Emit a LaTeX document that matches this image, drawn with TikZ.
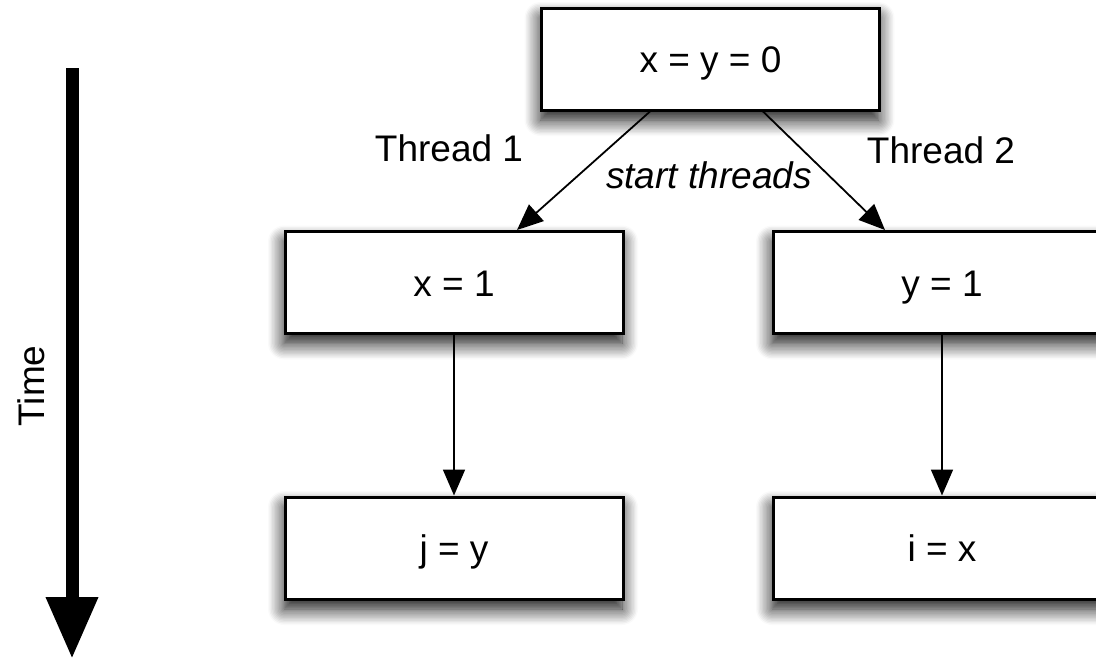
\documentclass[tikz,border=0pt]{standalone}
\usepackage{fontspec}
\setmainfont{Liberation Sans}
\usetikzlibrary{arrows.meta,shadows.blur}

\tikzset{
  statebox/.style={draw=black, line width=3pt, fill=white,
    minimum width=338pt, minimum height=102pt, inner sep=0pt,
    text height=27pt, text depth=0pt,
    blur shadow={shadow xshift=-1pt, shadow yshift=-10pt,
      shadow blur radius=16pt, shadow blur steps=12, shadow opacity=95}},
  flow/.style={line width=1.8pt, -{Triangle[length=26pt,width=22pt]}},
  timeaxis/.style={line width=13pt, -{Triangle[length=62pt,width=49pt]}},
  lbl/.style={inner sep=0pt}
}

\begin{document}
\begin{tikzpicture}[x=1pt,y=-1pt,font=\fontsize{37}{44}\selectfont]
  \useasboundingbox (0,0) rectangle (1096,659);
  \clip (0,0) rectangle (1096,659);

  % time axis on the left
  \coordinate (tstart) at (72,68);
  \coordinate (tend) at (72,659);
  \draw[timeaxis] (tstart) -- (tend);
  \node[lbl, rotate=90] (time) at (31,386) {Time};

  % statements
  \node[statebox] (init) at (710.5,59) {x = y = 0};
  \node[statebox] (wx) at (454,282.5) {x = 1};
  \node[statebox] (ry) at (454,548) {j = y};
  \node[statebox] (wy) at (942,282.5) {y = 1};
  \node[statebox] (rx) at (942,548) {i = x};

  % thread labels
  \node[lbl] (t1) at (449,148) {Thread 1};
  \node[lbl] (t2) at (941,150) {Thread 2};

  % fork into the two threads
  \draw[flow] ([xshift=-60.5pt]init.south) -- ([xshift=63pt]wx.north);
  \draw[flow] ([xshift=52.5pt]init.south) -- ([xshift=-57pt]wy.north);
  \node[lbl] (st) at (709,175) {\itshape start threads};

  % program order within each thread
  \draw[flow] (wx) -- (ry);
  \draw[flow] (wy) -- (rx);
\end{tikzpicture}
\end{document}
